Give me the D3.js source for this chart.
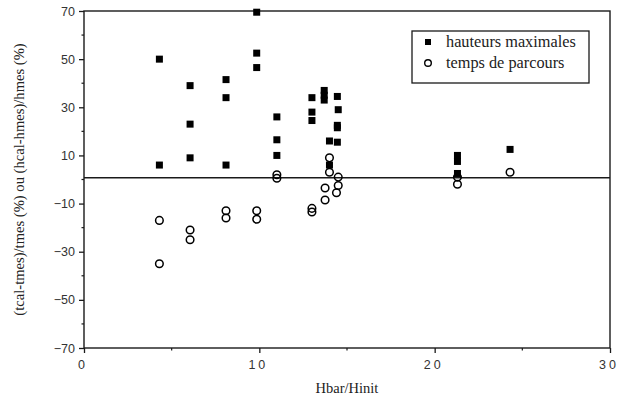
<!DOCTYPE html>
<html>
<head>
<meta charset="utf-8">
<script src="https://cdn.jsdelivr.net/npm/d3@7"></script>
<style>
  body { margin: 0; background: #fff; }
  .tick text { font-family: "Liberation Sans", Arial, sans-serif; fill: #333; }
</style>
</head>
<body>
<div id="chart"></div>
<script>

  // hauteurs maximales (carrés pleins)
  var hautX = [4.3, 4.3, 6.05, 6.05, 6.05, 8.1, 8.1, 8.1, 9.85, 9.85, 9.85,
               11.0, 11.0, 11.0, 13.0, 13.0, 13.0, 13.7, 13.7, 13.7,
               14.45, 14.5, 14.45, 14.45, 14.0, 14.45, 14.0,
               21.3, 21.3, 21.3, 24.3];
  var hautY = [50, 6, 39, 23, 9, 41.5, 34, 6, 69.5, 52.5, 46.5,
               26, 16.5, 10, 34, 28, 24.5, 37, 35, 33,
               34.5, 29, 22.5, 21.5, 16, 15.5, 6,
               10, 7.5, 2.5, 12.5];

  // temps de parcours (cercles)
  var tempsX = [4.3, 4.3, 6.05, 6.05, 8.1, 8.1, 9.85, 9.85, 11.0, 11.0,
                13.0, 13.0, 13.75, 13.75, 14.0, 14.0, 14.5, 14.5, 14.4,
                21.3, 21.3, 24.3];
  var tempsY = [-17, -35, -21, -25, -13, -16, -13, -16.5, 2, 0.5,
                -12, -13.5, -3.5, -8.5, 9, 3, 1, -2.5, -5.5,
                1, -2, 3];

  var xTicks = [0, 10, 20, 30];
  var xMinor = [5, 15, 25];
  var yTicks = [-70, -50, -30, -10, 10, 30, 50, 70];
  var yMinor = [-60, -40, -20, 0, 20, 40, 60];

  var legendLabels = ["hauteurs maximales", "temps de parcours"];

  var width = 620, height = 415;
  var margin = { top: 11, right: 10, bottom: 67, left: 84 };

  var svg = d3.select("#chart").append("svg")
    .attr("width", width)
    .attr("height", height);

  var x = d3.scaleLinear().domain([0, 30]).range([margin.left, width - margin.right]);
  var y = d3.scaleLinear().domain([-70, 70]).range([height - margin.bottom, margin.top]);

  var ink = "#1a1a1a";
  var serif = "Liberation Serif, Times New Roman, serif";

  // cadre
  svg.append("rect")
    .attr("x", x(0)).attr("y", y(70))
    .attr("width", x(30) - x(0)).attr("height", y(-70) - y(70))
    .attr("fill", "none").attr("stroke", ink).attr("stroke-width", 1.4);

  // axe y
  var yAxis = svg.append("g")
    .attr("transform", "translate(" + x(0) + ",0)")
    .call(d3.axisLeft(y).tickValues(yTicks).tickSize(5).tickSizeOuter(0).tickPadding(4));
  yAxis.select(".domain").remove();
  yAxis.selectAll(".tick line").attr("stroke", ink).attr("stroke-width", 1.3);
  yAxis.selectAll(".tick text").style("font-size", "12.5px");

  svg.append("g").selectAll("line")
    .data(yMinor).enter().append("line")
    .attr("x1", x(0) - 2.5).attr("x2", x(0))
    .attr("y1", function(d) { return y(d); })
    .attr("y2", function(d) { return y(d); })
    .attr("stroke", ink).attr("stroke-width", 1.2);

  // axe x
  var xAxis = svg.append("g")
    .attr("transform", "translate(0," + y(-70) + ")")
    .call(d3.axisBottom(x).tickValues(xTicks).tickSize(5).tickSizeOuter(0).tickPadding(7));
  xAxis.select(".domain").remove();
  xAxis.selectAll(".tick line").attr("stroke", ink).attr("stroke-width", 1.3);
  xAxis.selectAll(".tick text")
    .style("font-size", "12.5px")
    .style("letter-spacing", "3px")
    .attr("dx", "-1.5px");

  svg.append("g").selectAll("line")
    .data(xMinor).enter().append("line")
    .attr("x1", function(d) { return x(d); })
    .attr("x2", function(d) { return x(d); })
    .attr("y1", y(-70)).attr("y2", y(-70) + 2.5)
    .attr("stroke", ink).attr("stroke-width", 1.2);

  // ligne zéro
  svg.append("line")
    .attr("x1", x(0)).attr("x2", x(30))
    .attr("y1", y(0.7)).attr("y2", y(0.7))
    .attr("stroke", ink).attr("stroke-width", 1.4);

  // points
  var sq = 7;
  svg.append("g").selectAll("rect")
    .data(d3.range(hautX.length)).enter().append("rect")
    .attr("x", function(i) { return x(hautX[i]) - sq / 2; })
    .attr("y", function(i) { return y(hautY[i]) - sq / 2; })
    .attr("width", sq).attr("height", sq)
    .attr("fill", "#000");

  svg.append("g").selectAll("circle")
    .data(d3.range(tempsX.length)).enter().append("circle")
    .attr("cx", function(i) { return x(tempsX[i]); })
    .attr("cy", function(i) { return y(tempsY[i]); })
    .attr("r", 3.8)
    .attr("fill", "none")
    .attr("stroke", "#000").attr("stroke-width", 1.5);

  // légende
  var lg = svg.append("g");
  lg.append("rect")
    .attr("x", 412).attr("y", 31).attr("width", 177).attr("height", 52)
    .attr("fill", "#fff").attr("stroke", ink).attr("stroke-width", 1.3);
  lg.append("rect")
    .attr("x", 428 - 3).attr("y", 42 - 3).attr("width", 6).attr("height", 6)
    .attr("fill", "#000");
  lg.append("circle")
    .attr("cx", 428).attr("cy", 63).attr("r", 3.3)
    .attr("fill", "none").attr("stroke", "#000").attr("stroke-width", 1.4);
  lg.selectAll("text")
    .data(legendLabels).enter().append("text")
    .attr("x", 446)
    .attr("y", function(d, i) { return 47 + i * 21; })
    .attr("font-family", serif)
    .attr("font-size", "16.3px")
    .attr("fill", "#222")
    .text(function(d) { return d; });

  // titres des axes
  svg.append("text")
    .attr("x", (x(0) + x(30)) / 2)
    .attr("y", 393)
    .attr("text-anchor", "middle")
    .attr("font-family", serif)
    .attr("font-size", "14.5px")
    .attr("fill", "#222")
    .text("Hbar/Hinit");

  svg.append("text")
    .attr("transform", "translate(24," + y(0) + ") rotate(-90)")
    .attr("text-anchor", "middle")
    .attr("font-family", serif)
    .attr("font-size", "14.6px")
    .attr("fill", "#222")
    .text("(tcal-tmes)/tmes (%) ou (hcal-hmes)/hmes (%)");

</script>
</body>
</html>
